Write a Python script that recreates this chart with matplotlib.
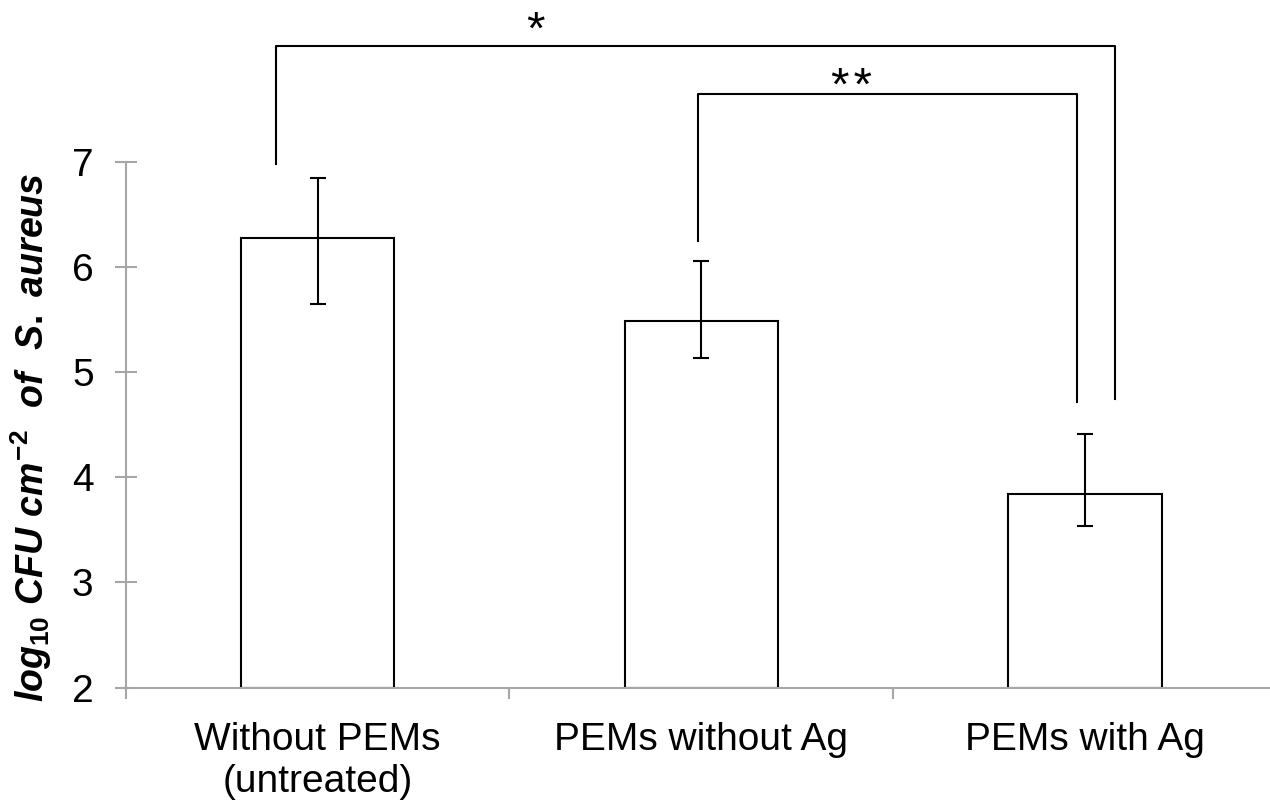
import matplotlib
matplotlib.use('Agg')
from matplotlib import pyplot as plt

plt.rcParams['font.family'] = ['Liberation Sans', 'DejaVu Sans']
plt.rcParams['mathtext.fontset'] = 'custom'
plt.rcParams['mathtext.it'] = 'Liberation Sans:italic:bold'
plt.rcParams['mathtext.rm'] = 'Liberation Sans:bold'
plt.rcParams['mathtext.bf'] = 'Liberation Sans:italic:bold'

# data
categories = ['Without PEMs\n(untreated)', 'PEMs without Ag', 'PEMs with Ag']
means = [6.28, 5.49, 3.84]
err_upper = [6.85, 6.06, 4.41]
err_lower = [5.65, 5.13, 3.54]
y_ticks = [2, 3, 4, 5, 6, 7]

# significance brackets: (x left, x right, y top, y left end, y right end, label)
bracket_a = (-0.108, 2.077, 8.10, 6.98, 4.74, '*')
bracket_b = (0.991, 1.980, 7.65, 6.25, 4.72, '*\u200a*')
star_pos_a = (0.568, 8.24)
star_pos_b = (1.392, 7.70)

AXIS_GREY = '#a6a6a6'

fig = plt.figure(figsize=(12.7, 8), dpi=100)
ax = fig.add_axes([0.0989, 0.1406, 0.9066, 0.657])

x = list(range(len(categories)))
yerr = [[m - lo for m, lo in zip(means, err_lower)],
        [hi - m for m, hi in zip(means, err_upper)]]
ax.bar(x, [m - 2 for m in means], bottom=2, width=0.4, color='white',
       edgecolor='black', linewidth=1.5, zorder=2)
ax.errorbar(x, means, yerr=yerr, fmt='none', ecolor='black', elinewidth=1.5,
            capsize=5.5, capthick=1.5, zorder=3)

ax.set_xlim(-0.5, 2.5)
ax.set_ylim(2, 7)
ax.set_yticks(y_ticks)
ax.set_xticks(x)
ax.set_xticklabels(categories)
ax.set_xticks([-0.5, 0.5, 1.5, 2.5], minor=True)

for side in ['top', 'right']:
    ax.spines[side].set_visible(False)
for side in ['left', 'bottom']:
    ax.spines[side].set_color(AXIS_GREY)
    ax.spines[side].set_linewidth(1.5)

ax.tick_params(axis='y', direction='inout', length=16, width=1.5, color=AXIS_GREY,
               labelsize=28, pad=15)
ax.tick_params(axis='x', which='major', length=0, labelsize=28, pad=25)
ax.tick_params(axis='x', which='minor', direction='out', length=8, width=1.5,
               color=AXIS_GREY)

for br, star in [(bracket_a, star_pos_a), (bracket_b, star_pos_b)]:
    xl, xr, ytop, yl, yr, txt = br
    ax.plot([xl, xl, xr, xr], [yl, ytop, ytop, yr], color='black', lw=1.5,
            clip_on=False, zorder=4)
    ax.text(star[0], star[1], txt, ha='center', va='center', fontsize=34,
            clip_on=False)

fig.text(31 / 1270, 1 - 437 / 800, r'$log_{10}\ CFU\ cm^{-2}\ \ of\ \ S.\ aureus$',
         rotation=90, ha='center', va='center', fontsize=27)

fig.savefig('out.png')
